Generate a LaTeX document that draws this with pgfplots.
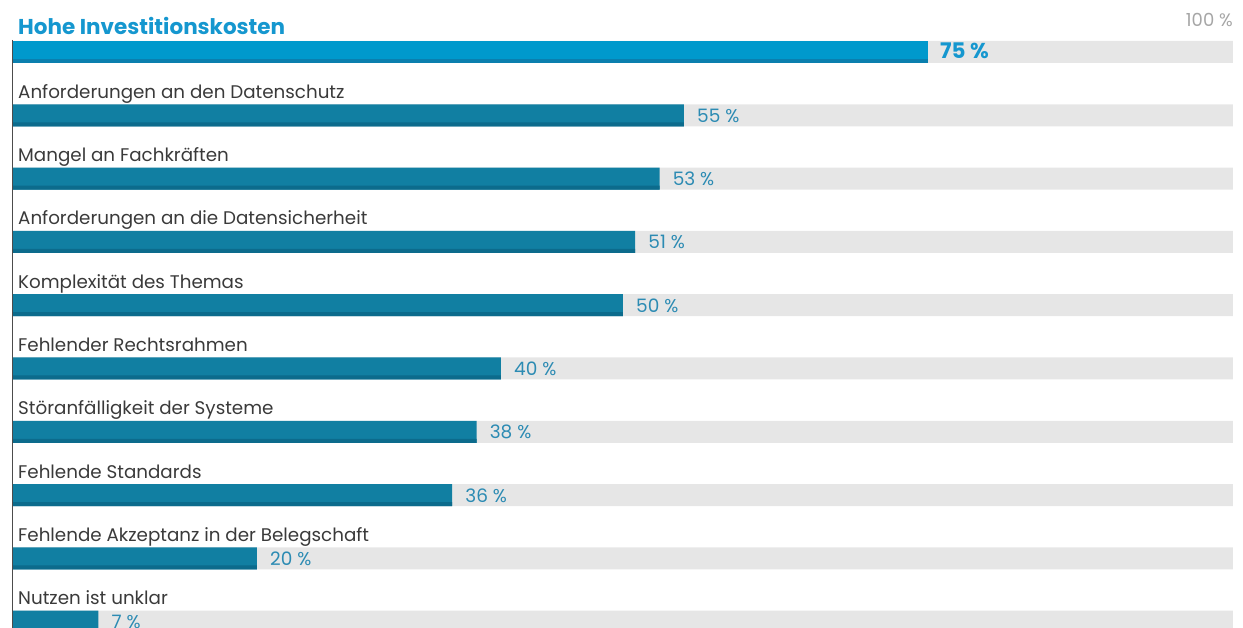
\documentclass[border=0pt]{standalone}
\usepackage{pgfplots}
\pgfplotsset{compat=1.18}
\usepackage{fontspec}
\setmainfont{Poppins}
\definecolor{topbar}{HTML}{0099CC}
\definecolor{topstrip}{HTML}{0A7FAE}
\definecolor{barc}{HTML}{117FA2}
\definecolor{stripc}{HTML}{0C6B8C}
\definecolor{bgc}{HTML}{E6E6E6}
\definecolor{lbl}{HTML}{3A3A3A}
\definecolor{valc}{HTML}{2C8BB3}
\definecolor{titlec}{HTML}{1597CF}
\begin{document}
\begin{tikzpicture}
\useasboundingbox (0,0) rectangle (1243pt,628pt);
\clip (0,0) rectangle (1243pt,628pt);
\begin{axis}[
  at={(0pt,628pt)}, anchor=north west,
  scale only axis, width=1243pt, height=628pt,
  xmin=-1.0656, xmax=100.82, ymin=-9.0995, ymax=0.8215,
  axis line style={draw=none}, major tick length=0pt,
  /pgf/number format/assume math mode=true,
  xtick=\empty,
  ytick={-9,-8,-7,-6,-5,-4,-3,-2,-1,0},
  yticklabels={Nutzen ist unklar, Fehlende Akzeptanz in der Belegschaft, Fehlende Standards, Störanfälligkeit der Systeme, Fehlender Rechtsrahmen, Komplexität des Themas, Anforderungen an die Datensicherheit, Mangel an Fachkräften, Anforderungen an den Datenschutz, {\bfseries\color{titlec}\fontsize{21.5}{24}\selectfont Hohe Investitionskosten}},
  yticklabel style={anchor=base west, xshift=18pt, yshift=17pt, font=\fontsize{18.3}{21}\selectfont, text=lbl, inner sep=0pt},
  clip=false,
]
\addplot[xbar, bar width=22pt, bar shift=0pt, fill=bgc, draw=none] coordinates {(100,0) (100,-1) (100,-2) (100,-3) (100,-4) (100,-5) (100,-6) (100,-7) (100,-8) (100,-9)};
\addplot[xbar, bar width=22pt, bar shift=0pt, fill=topbar, draw=none] coordinates {(75,0)};
\addplot[xbar, bar width=22pt, bar shift=0pt, fill=barc, draw=none] coordinates {(55,-1) (53,-2) (51,-3) (50,-4) (40,-5) (38,-6) (36,-7) (20,-8) (7,-9)};
\addplot[xbar, bar width=4pt, bar shift=-9pt, fill=topstrip, draw=none,
  point meta=x, nodes near coords={\pgfmathprintnumber{\pgfplotspointmeta}\ \%},
  every node near coord/.append style={anchor=base west, inner sep=0pt, xshift=12pt, yshift=-7pt, font=\bfseries\fontsize{21.5}{24}\selectfont, text=titlec}] coordinates {(75,0)};
\addplot[xbar, bar width=4pt, bar shift=-9pt, fill=stripc, draw=none,
  point meta=x, nodes near coords={\pgfmathprintnumber{\pgfplotspointmeta}\ \%},
  every node near coord/.append style={anchor=base west, inner sep=0pt, xshift=13pt, yshift=-7pt, font=\fontsize{18.5}{21}\selectfont, text=valc}] coordinates {(55,-1) (53,-2) (51,-3) (50,-4) (40,-5) (38,-6) (36,-7) (20,-8) (7,-9)};
\draw[color=black!70, line width=1.2pt] (axis cs:-0.05,0.19) -- (axis cs:-0.05,-9.1);
\node[anchor=base east, inner sep=0pt, text=black!35, font=\fontsize{18}{21}\selectfont] at (axis cs:100,0.395) {100 \%};
\end{axis}
\end{tikzpicture}
\end{document}
